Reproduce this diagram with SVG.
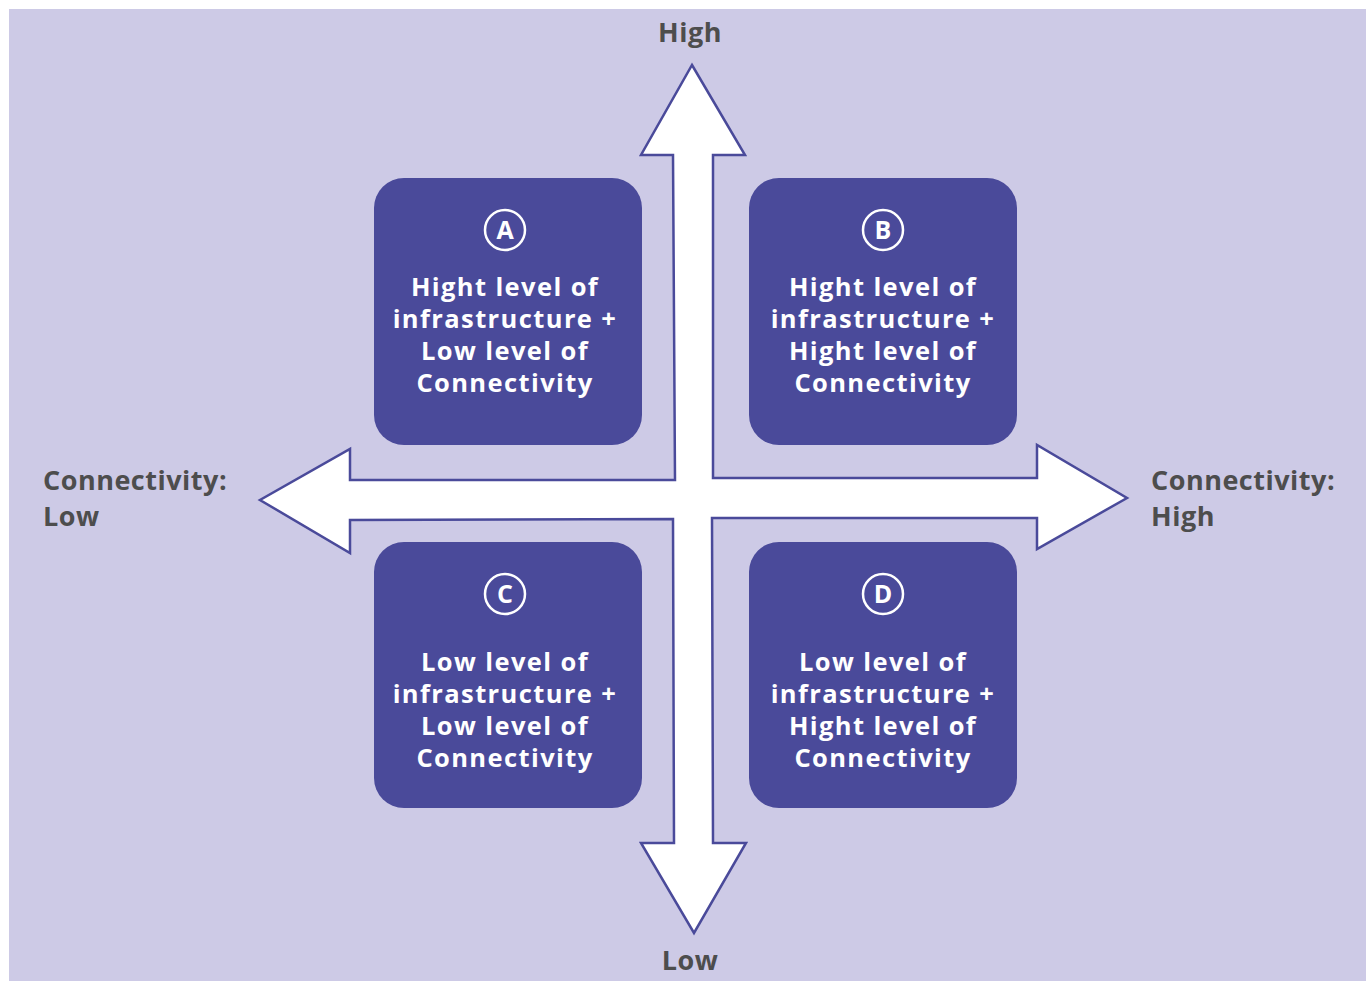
<svg xmlns="http://www.w3.org/2000/svg" width="1366" height="981" viewBox="0 0 1366 981">
<style>
.box{fill:#4A4A9A}
.lbl{fill:#FFFFFF;font-family:"Open Sans","Noto Sans",sans-serif;font-weight:700;font-size:25.5px;letter-spacing:1.4px;text-anchor:middle}
.badge{fill:none;stroke:#FFFFFF;stroke-width:2.5}
.bl{fill:#FFFFFF;font-family:"Open Sans","Noto Sans",sans-serif;font-weight:700;font-size:25px;text-anchor:middle}
.axis{fill:#4D4D4D;font-family:"Open Sans","Noto Sans",sans-serif;font-weight:700;font-size:27px;letter-spacing:0.5px}
</style>
<rect x="0" y="0" width="1366" height="981" fill="#FFFFFF"/>
<rect x="9" y="9" width="1357" height="972" fill="#CDCAE6"/>
<g id="connectors">
<polygon points="692,65 745,155 713,155 713,478 1037,478 1037,445 1127,498 1037,549 1037,518 712,518 713,843 746,843 694,933 641,843 674,843 673,519 350,520 350,553 260,500 350,449 350,480 675,480 673,155 641,155" fill="#FFFFFF" stroke="#4A4A9A" stroke-width="2.5" stroke-linejoin="miter"/>
</g>
<g id="axis-labels">
<text class="axis" x="690" y="42" text-anchor="middle">High</text>
<text class="axis" x="690" y="970" text-anchor="middle">Low</text>
<text class="axis" x="43" y="490">Connectivity:</text>
<text class="axis" x="43" y="526">Low</text>
<text class="axis" x="1151" y="490">Connectivity:</text>
<text class="axis" x="1151" y="526">High</text>
</g>
<g id="node-A">
<rect class="box" x="374" y="178" width="268" height="267" rx="30"/>
<circle class="badge" cx="505" cy="230" r="20"/>
<text class="bl" x="505" y="239">A</text>
<text class="lbl" x="505" y="296">Hight level of</text>
<text class="lbl" x="505" y="328">infrastructure +</text>
<text class="lbl" x="505" y="360">Low level of</text>
<text class="lbl" x="505" y="392">Connectivity</text>
</g>
<g id="node-B">
<rect class="box" x="749" y="178" width="268" height="267" rx="30"/>
<circle class="badge" cx="883" cy="230" r="20"/>
<text class="bl" x="883" y="239">B</text>
<text class="lbl" x="883" y="296">Hight level of</text>
<text class="lbl" x="883" y="328">infrastructure +</text>
<text class="lbl" x="883" y="360">Hight level of</text>
<text class="lbl" x="883" y="392">Connectivity</text>
</g>
<g id="node-C">
<rect class="box" x="374" y="542" width="268" height="266" rx="30"/>
<circle class="badge" cx="505" cy="594" r="20"/>
<text class="bl" x="505" y="603">C</text>
<text class="lbl" x="505" y="671">Low level of</text>
<text class="lbl" x="505" y="703">infrastructure +</text>
<text class="lbl" x="505" y="735">Low level of</text>
<text class="lbl" x="505" y="767">Connectivity</text>
</g>
<g id="node-D">
<rect class="box" x="749" y="542" width="268" height="266" rx="30"/>
<circle class="badge" cx="883" cy="594" r="20"/>
<text class="bl" x="883" y="603">D</text>
<text class="lbl" x="883" y="671">Low level of</text>
<text class="lbl" x="883" y="703">infrastructure +</text>
<text class="lbl" x="883" y="735">Hight level of</text>
<text class="lbl" x="883" y="767">Connectivity</text>
</g>
</svg>
